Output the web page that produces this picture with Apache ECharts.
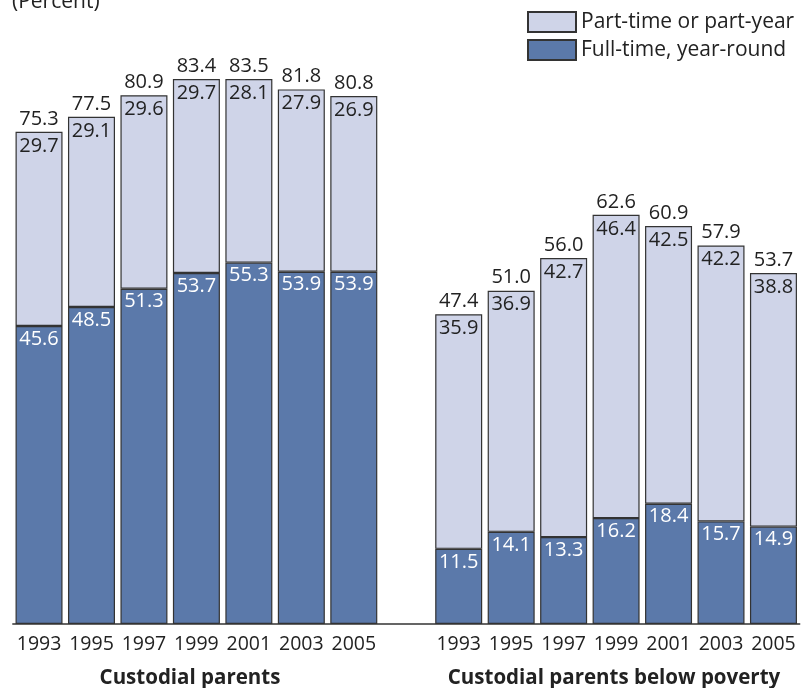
<!DOCTYPE html>
<html>
<head>
<meta charset="utf-8">
<script src="https://cdn.jsdelivr.net/npm/echarts@6/dist/echarts.min.js"></script>
<style>
html,body{margin:0;padding:0;background:#fff;}
#chart{width:804px;height:688px;}
</style>
</head>
<body>
<div id="chart"></div>
<script>
// Data
var years = ['1993', '1995', '1997', '1999', '2001', '2003', '2005'];
var groupTitles = ['Custodial parents', 'Custodial parents below poverty'];
var fullTimeAll = [45.6, 48.5, 51.3, 53.7, 55.3, 53.9, 53.9];
var partTimeAll = [29.7, 29.1, 29.6, 29.7, 28.1, 27.9, 26.9];
var totalAll = [75.3, 77.5, 80.9, 83.4, 83.5, 81.8, 80.8];
var fullTimePov = [11.5, 14.1, 13.3, 16.2, 18.4, 15.7, 14.9];
var partTimePov = [35.9, 36.9, 42.7, 46.4, 42.5, 42.2, 38.8];
var totalPov = [47.4, 51.0, 56.0, 62.6, 60.9, 57.9, 53.7];

// Combined arrays: group 1, an empty slot, group 2
var categories = years.concat(['']).concat(years);
var fullTime = fullTimeAll.concat(['-']).concat(fullTimePov);
var partTime = partTimeAll.concat(['-']).concat(partTimePov);
var totals = totalAll.concat(['-']).concat(totalPov);
var zeros = totals.map(function (v) { return v === '-' ? '-' : 0; });

var FONT = 'Open Sans';
var chart = echarts.init(document.getElementById('chart'));
chart.setOption({
  animation: false,
  textStyle: { fontFamily: FONT },
  grid: { left: 12.8, right: 4.3, top: 35.8, bottom: 64, containLabel: false },
  legend: {
    data: ['Part-time or part-year', 'Full-time, year-round'],
    orient: 'vertical',
    left: 522,
    top: 6,
    icon: 'rect',
    itemWidth: 48,
    itemHeight: 20,
    itemGap: 6,
    textStyle: { fontFamily: FONT, fontSize: 21, color: '#222' },
    selectedMode: false
  },
  xAxis: {
    type: 'category',
    data: categories,
    axisLine: { show: true, lineStyle: { color: '#333', width: 1.5 } },
    axisTick: { show: false },
    axisLabel: { fontFamily: FONT, fontSize: 19.5, color: '#222', margin: 10, interval: 0 }
  },
  yAxis: {
    type: 'value', min: 0, max: 90, show: false, splitLine: { show: false }
  },
  graphic: [
    { type: 'text', left: 12, top: -8, style: { text: '(Percent)', fontFamily: FONT, fontSize: 21, fill: '#222' } },
    { type: 'text', x: 190, y: 678, style: { text: groupTitles[0], fontFamily: FONT, fontSize: 20.5, fontWeight: 'bold', fill: '#222', textAlign: 'center', textVerticalAlign: 'middle' } },
    { type: 'text', x: 614, y: 678, style: { text: groupTitles[1], fontFamily: FONT, fontSize: 20.5, fontWeight: 'bold', fill: '#222', textAlign: 'center', textVerticalAlign: 'middle' } }
  ],
  series: [
    {
      name: 'Full-time, year-round',
      type: 'bar',
      stack: 's',
      data: fullTime,
      barWidth: 47,
      itemStyle: { color: '#5b79aa', borderColor: '#333', borderWidth: 1.2 },
      label: { show: true, position: 'insideTop', distance: 3, fontFamily: FONT, fontSize: 20, color: '#fff',
        formatter: function (p) { return p.value.toFixed(1); } }
    },
    {
      name: 'Part-time or part-year',
      type: 'bar',
      stack: 's',
      data: partTime,
      barWidth: 47,
      itemStyle: { color: '#cfd4e8', borderColor: '#333', borderWidth: 1.2 },
      label: { show: true, position: 'insideTop', distance: 4, fontFamily: FONT, fontSize: 20, color: '#222',
        formatter: function (p) { return p.value.toFixed(1); } }
    },
    {
      name: 'Total',
      type: 'bar',
      stack: 's',
      data: zeros,
      barWidth: 47,
      itemStyle: { color: 'rgba(0,0,0,0)', borderWidth: 0 },
      label: { show: true, position: 'top', distance: 3, fontFamily: FONT, fontSize: 20, color: '#222',
        formatter: function (p) { return totals[p.dataIndex].toFixed(1); } }
    }
  ]
});
</script>
</body>
</html>
